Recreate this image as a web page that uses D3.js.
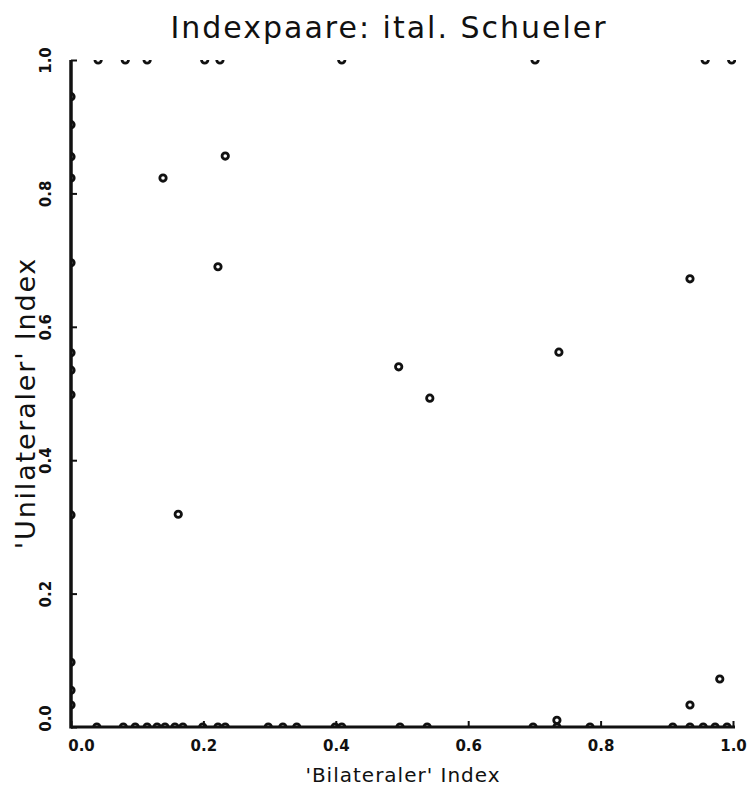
<!DOCTYPE html>
<html><head><meta charset="utf-8">
<script src="https://cdn.jsdelivr.net/npm/d3@7"></script>
<style>body{margin:0;background:#fff}svg{display:block}</style>
</head><body>
<svg id="chart" width="753" height="799"></svg>
<script>
const title = "Indexpaare: ital. Schueler";
const xLabel = "'Bilateraler' Index";
const yLabel = "'Unilateraler' Index";
const tickValues = [0, 0.2, 0.4, 0.6, 0.8, 1.0];
const tickLabels = ["0.0", "0.2", "0.4", "0.6", "0.8", "1.0"];

// interior points
const innerX = [0.139, 0.233, 0.222, 0.162, 0.495, 0.542, 0.737, 0.935, 0.935, 0.980, 0.734];
const innerY = [0.823, 0.856, 0.690, 0.319, 0.540, 0.493, 0.562, 0.672, 0.033, 0.072, 0.010];
// points on the bottom edge (y = 0)
const bottomX = [0.039, 0.079, 0.097, 0.115, 0.130, 0.142, 0.157, 0.169, 0.199, 0.222, 0.233,
                 0.298, 0.320, 0.341, 0.399, 0.409, 0.497, 0.538, 0.698, 0.734, 0.784,
                 0.909, 0.935, 0.955, 0.973, 0.991];
// points on the top edge (y = 1)
const topX = [0.041, 0.082, 0.115, 0.202, 0.225, 0.409, 0.701, 0.958, 0.998];
// points on the left edge (x = 0)
const leftY = [0.945, 0.903, 0.855, 0.823, 0.696, 0.561, 0.535, 0.498, 0.318, 0.097, 0.055, 0.033];

const pts = [];
innerX.forEach((x, i) => pts.push({x, y: innerY[i]}));
bottomX.forEach(x => pts.push({x, y: 0}));
topX.forEach(x => pts.push({x, y: 1}));
leftY.forEach(y => pts.push({x: 0, y}));

const svg = d3.select("#chart");
const W = 753, H = 799;
const x = d3.scaleLinear().domain([0, 1]).range([71, 733]);
const y = d3.scaleLinear().domain([0, 1]).range([727, 60]);
const font = "'DejaVu Sans', 'Liberation Sans', sans-serif";

// points
svg.append("g")
  .selectAll("circle").data(pts).join("circle")
  .attr("cx", d => x(d.x)).attr("cy", d => y(d.y)).attr("r", 3.2)
  .attr("fill", "white").attr("stroke", "#111").attr("stroke-width", 2.8);

// mask everything outside the plotting region (points sitting on the frame become half marks)
const mask = svg.append("g").attr("fill", "white");
mask.append("rect").attr("x", 0).attr("y", 0).attr("width", W).attr("height", y(1));
mask.append("rect").attr("x", 0).attr("y", 0).attr("width", x(0)).attr("height", H);
mask.append("rect").attr("x", 0).attr("y", y(0)).attr("width", W).attr("height", H - y(0));
mask.append("rect").attr("x", x(1) + 3).attr("y", 0).attr("width", W).attr("height", H);

// x axis
const xAxis = svg.append("g").attr("transform", `translate(0,${y(0)})`)
  .call(d3.axisBottom(x).tickValues(tickValues).tickSizeInner(-6).tickSizeOuter(0)
    .tickFormat((d, i) => tickLabels[i]));
xAxis.select(".domain").remove();
xAxis.selectAll(".tick line").attr("stroke", "#111").attr("stroke-width", 2);
xAxis.selectAll(".tick text").attr("y", 13).attr("dy", "0.71em")
  .attr("dx", (d, i) => i === 0 ? 10 : 0)
  .style("font-family", font).style("font-size", "15px").style("font-weight", "bold").attr("fill", "#111");

// y axis
const yAxis = svg.append("g").attr("transform", `translate(${x(0)},0)`)
  .call(d3.axisLeft(y).tickValues(tickValues).tickSizeInner(-6).tickSizeOuter(0)
    .tickFormat((d, i) => tickLabels[i]));
yAxis.select(".domain").remove();
yAxis.selectAll(".tick line").attr("stroke", "#111").attr("stroke-width", 2);
yAxis.selectAll(".tick text")
  .attr("x", null).attr("dy", null)
  .attr("text-anchor", "middle")
  .attr("transform", (d, i) => `translate(-20,${i === 0 ? -9 : 0}) rotate(-90)`)
  .style("font-family", font).style("font-size", "15px").style("font-weight", "bold").attr("fill", "#111");

// axis lines
svg.append("line").attr("x1", x(0)).attr("x2", x(0)).attr("y1", y(1)).attr("y2", y(0) + 1.5)
  .attr("stroke", "#111").attr("stroke-width", 3.5);
svg.append("line").attr("x1", x(0)).attr("x2", x(1) + 2).attr("y1", y(0)).attr("y2", y(0))
  .attr("stroke", "#111").attr("stroke-width", 3);

// title
svg.append("text").attr("x", 389).attr("y", 38).attr("text-anchor", "middle")
  .style("font-family", font).style("font-size", "30px").style("letter-spacing", "2px")
  .attr("fill", "#111").text(title);
// x label
svg.append("text").attr("x", 403).attr("y", 782).attr("text-anchor", "middle")
  .style("font-family", font).style("font-size", "20px").style("letter-spacing", "1px")
  .attr("fill", "#111").text(xLabel);
// y label
svg.append("text").attr("transform", "translate(35,403) rotate(-90)").attr("text-anchor", "middle")
  .style("font-family", font).style("font-size", "27px").style("letter-spacing", "1.8px")
  .attr("fill", "#111").text(yLabel);
</script>
</body></html>
